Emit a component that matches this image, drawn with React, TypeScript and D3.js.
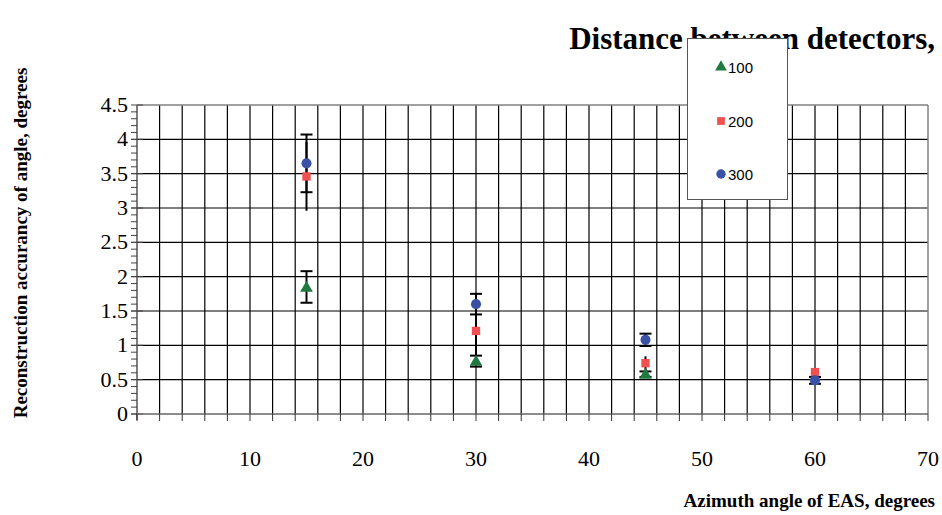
import React from "react";
import * as d3 from "d3";

// Azimuth angles (degrees)
const angles = [15, 30, 45, 60];

// Series: distance between detectors
const seriesNames = ["100", "200", "300"];
const values100 = [1.85, 0.77, 0.58, null];
const values200 = [3.46, 1.21, 0.74, 0.61];
const values300 = [3.65, 1.6, 1.08, 0.49];
const errors100 = [0.23, 0.08, 0.04, null];
const errors200 = [0.5, 0.35, 0.1, 0.04];
const errors300 = [0.42, 0.15, 0.09, 0.05];

const xTicks = [0, 10, 20, 30, 40, 50, 60, 70];
const yTicks = [0, 0.5, 1, 1.5, 2, 2.5, 3, 3.5, 4, 4.5];

const colors = ["#1f7a3f", "#f0504f", "#3b51a5"];
const shapes = [d3.symbolTriangle, d3.symbolSquare, d3.symbolCircle];
const symSizes = [70, 70, 80];

const css = `
text.sf { font-family: "Liberation Serif", "Times New Roman", Times, "DejaVu Serif", serif; }
text.sb { font-family: "Liberation Serif", "Times New Roman", Times, "DejaVu Serif", serif; font-weight: bold; }
text.ss { font-family: "Liberation Sans", Arial, sans-serif; }
`;

const left = 137, right = 928, top = 105, bottom = 414;
const x = d3.scaleLinear().domain([0, 70]).range([left, right]);
const y = d3.scaleLinear().domain([0, 4.5]).range([bottom, top]);

export default function App() {
  const allVals = [values100, values200, values300];
  const allErr = [errors100, errors200, errors300];
  const caps = [true, false, true];
  const legY = [67, 121, 174];

  return (
    <svg width={942} height={515}
      style={{ position: "absolute", left: 0, top: 0, display: "block" }}>
      <style>{css}</style>
      <rect width={942} height={515} fill="white" />

      {/* grid */}
      {d3.range(2, 70, 2).map(d => (
        <line key={"v" + d} x1={x(d)} x2={x(d)} y1={top} y2={bottom} stroke="#000" strokeWidth={1.2} />
      ))}
      {yTicks.slice(1, -1).map(d => (
        <line key={"h" + d} x1={left} x2={right} y1={y(d)} y2={y(d)} stroke="#000" strokeWidth={1.2} />
      ))}
      <line x1={left} x2={right} y1={top} y2={top} stroke="#808080" strokeWidth={1.5} />
      <line x1={right} x2={right} y1={top} y2={bottom} stroke="#808080" strokeWidth={1.5} />

      {/* y axis */}
      <line x1={left} x2={left} y1={top} y2={bottom + 6} stroke="#555" strokeWidth={1.5} />
      {d3.range(0, 45).map(i => (
        <line key={"ym" + i} x1={left - 6} x2={left} y1={y(i / 10)} y2={y(i / 10)} stroke="#444" strokeWidth={1} />
      ))}
      {yTicks.map(d => (
        <g key={"yt" + d}>
          <line x1={left - 6} x2={left + 6} y1={y(d)} y2={y(d)} stroke="#444" strokeWidth={1} />
          <text className="sf" x={left - 9} y={y(d) + 7} textAnchor="end" fontSize={22}>{String(d)}</text>
        </g>
      ))}

      {/* x axis */}
      <line x1={left} x2={right} y1={bottom} y2={bottom} stroke="#666" strokeWidth={1.5} />
      {d3.range(0, 71, 2).map(d => (
        <line key={"xt" + d} x1={x(d)} x2={x(d)} y1={bottom} y2={bottom + 7} stroke="#333" strokeWidth={1} />
      ))}
      {xTicks.map(d => (
        <text key={"xl" + d} className="sf" x={x(d)} y={466} textAnchor="middle" fontSize={22}>{String(d)}</text>
      ))}

      {/* error bars */}
      {allVals.map((vals, s) => vals.map((v, i) => {
        if (v == null) return null;
        const e = allErr[s][i] as number;
        const cx = x(angles[i]);
        return (
          <g key={"e" + s + i}>
            <line x1={cx} x2={cx} y1={y(v - e)} y2={y(v + e)} stroke="#000" strokeWidth={2} />
            {caps[s] && [v - e, v + e].map((c, k) => (
              <line key={k} x1={cx - 6} x2={cx + 6} y1={y(c)} y2={y(c)} stroke="#000" strokeWidth={2} />
            ))}
          </g>
        );
      }))}

      {/* markers */}
      {allVals.map((vals, s) => vals.map((v, i) => v == null ? null : (
        <path key={"m" + s + i}
          d={d3.symbol().type(shapes[s]).size(symSizes[s])() as string}
          transform={`translate(${x(angles[i])},${y(v) + (s === 0 ? 1 : 0)})`}
          fill={colors[s]} />
      )))}

      {/* title */}
      <text className="sb" x={935} y={49} textAnchor="end" fontSize={31}>
        Distance between detectors,
      </text>

      {/* legend */}
      <rect x={687.5} y={38.5} width={100} height={161} fill="white" stroke="#555" strokeWidth={1} />
      {seriesNames.map((n, s) => (
        <g key={"lg" + n}>
          <path d={d3.symbol().type(shapes[s]).size(symSizes[s] - 10)() as string}
            transform={`translate(721,${legY[s]})`} fill={colors[s]} />
          <text className="ss" x={728} y={legY[s] + 6} fontSize={15}>{n}</text>
        </g>
      ))}

      {/* axis titles */}
      <text className="sb" transform="translate(27,243) rotate(-90)" textAnchor="middle" fontSize={19}>
        Reconstruction accurancy of angle, degrees
      </text>
      <text className="sb" x={935} y={507} textAnchor="end" fontSize={19}>
        Azimuth angle of EAS, degrees
      </text>
    </svg>
  );
}
